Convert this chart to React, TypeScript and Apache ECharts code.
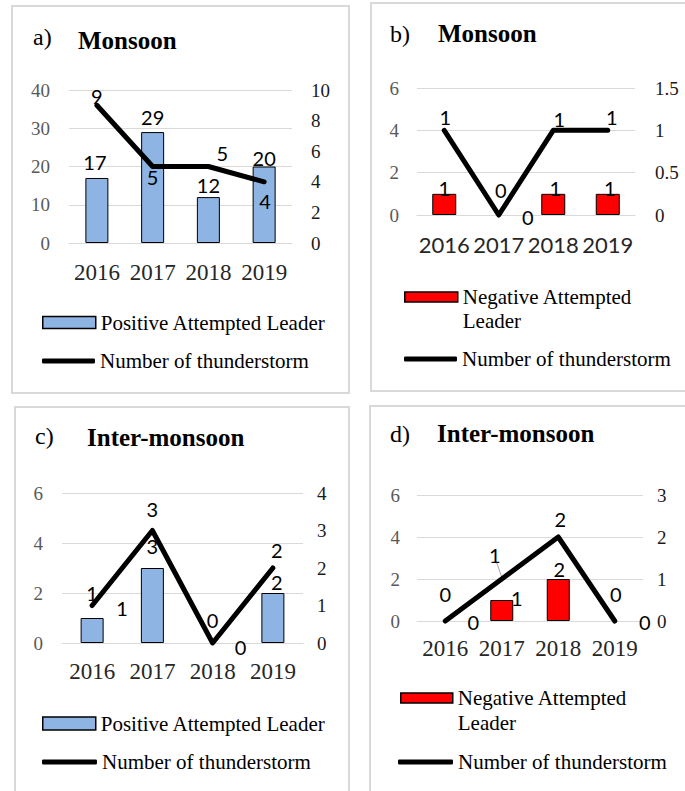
import React, { useEffect, useRef } from 'react';
import * as echarts from 'echarts';

// ---------- data ----------
const years = ['2016', '2017', '2018', '2019'];
const posLeaderMonsoon = [17, 29, 12, 20];
const stormsMonsoonPos = [9, 5, 5, 4];
const negLeaderMonsoon = [1, 0, 1, 1];
const stormsMonsoonNeg = [1, 0, 1, 1];
const posLeaderInter = [1, 3, 0, 2];
const stormsInterPos = [1, 3, 0, 2];
const negLeaderInter = [0, 1, 2, 0];
const stormsInterNeg = [0, 1, 2, 0];

// axis ranges [min, max, interval]
const leftAxisA = [0, 40, 10];
const rightAxisA = [0, 10, 2];
const leftAxisB = [0, 6, 2];
const rightAxisB = [0, 1.5, 0.5];
const leftAxisC = [0, 6, 2];
const rightAxisC = [0, 4, 1];
const leftAxisD = [0, 6, 2];
const rightAxisD = [0, 3, 1];

const POS_NAME = 'Positive Attempted Leader';
const NEG_NAME = 'Negative Attempted Leader';
const LINE_NAME = 'Number of thunderstorm';

const SERIF = '"Liberation Serif", "Times New Roman", serif';
const SANS = 'Lato, "Liberation Sans", sans-serif';
const BLUE = '#8db4e2';
const RED = '#ff0000';
const GRID_COLOR = '#d9d9d9';

// ---------- layout ----------
const panels = [
  {
    tag: 'a)', title: 'Monsoon', tagPos: [33, 37], titlePos: [78, 40],
    border: [12, 6, 337, 387],
    grid: { left: 69, top: 90, width: 223, height: 153 },
    bars: posLeaderMonsoon, barName: POS_NAME, barColor: BLUE, line: stormsMonsoonPos,
    left: leftAxisA, right: rightAxisA, xFont: SERIF, xSize: 23, xMargin: 18,
    lMargin: 19, rMargin: 19, barWidth: 23,
    barOff: [[-2, -6], [0, -5], [0, -2], [0, 1]],
    lineOff: [[0, -9], [0, 10], [14, -14], [1, 19]],
    legBar: [42, 310.5, 53, 12], legLine: [42, 350.5, 53, 5], multi: false, lh: 24,
  },
  {
    tag: 'b)', title: 'Monsoon', tagPos: [390, 34], titlePos: [438, 33],
    border: [371, 3, 330, 388],
    grid: { left: 417, top: 88, width: 218, height: 127 },
    bars: negLeaderMonsoon, barName: NEG_NAME, barColor: RED, line: stormsMonsoonNeg,
    left: leftAxisB, right: rightAxisB, xFont: SANS, xSize: 22, xMargin: 18,
    lMargin: 18, rMargin: 20, barWidth: 24,
    barOff: [[0, 4], [2, -15], [2, 4], [2, 4]],
    lineOff: [[1, -13], [29, 2], [6, -11], [4, -13]],
    legBar: [404, 261, 53, 10], legLine: [404, 348.5, 53, 5], multi: true, lh: 24,
  },
  {
    tag: 'c)', title: 'Inter-monsoon', tagPos: [35, 436], titlePos: [87, 437],
    border: [15, 407, 334, 400],
    grid: { left: 62, top: 493, width: 241, height: 150 },
    bars: posLeaderInter, barName: POS_NAME, barColor: BLUE, line: stormsInterPos,
    left: leftAxisC, right: rightAxisC, xFont: SERIF, xSize: 23, xMargin: 17,
    lMargin: 19, rMargin: 14, barWidth: 23,
    barOff: [[30, 0], [0, -12], [0, -13], [4, -1.5]],
    lineOff: [[0, -12.5], [0, -22], [28, 3.5], [4, -18]],
    legBar: [42, 711.5, 53, 13], legLine: [42, 751.5, 55, 5], multi: false, lh: 24,
  },
  {
    tag: 'd)', title: 'Inter-monsoon', tagPos: [390, 434], titlePos: [437, 433],
    border: [370, 406, 330, 400],
    grid: { left: 417, top: 495, width: 226, height: 126 },
    bars: negLeaderInter, barName: NEG_NAME, barColor: RED, line: stormsInterNeg,
    left: leftAxisD, right: rightAxisD, xFont: SERIF, xSize: 23, xMargin: 16,
    lMargin: 17, rMargin: 14, barWidth: 23,
    barOff: [[28, 10.5], [15, 8], [1, 0], [30, 10.5]],
    lineOff: [[0, -27], [-7, -24.5], [2, -18], [1, -27]],
    legBar: [400, 660.5, 52, 10], legLine: [398, 751.5, 55, 5], multi: true, lh: 25,
  },
];

function buildOption() {
  const grid: any[] = [];
  const xAxis: any[] = [];
  const yAxis: any[] = [];
  const series: any[] = [];
  const legend: any[] = [];
  const graphic: any[] = [];

  panels.forEach((p, i) => {
    graphic.push({
      type: 'rect', silent: true, z: -10,
      shape: { x: p.border[0], y: p.border[1], width: p.border[2], height: p.border[3] },
      style: { fill: 'none', stroke: GRID_COLOR, lineWidth: 2 },
    });
    graphic.push({
      type: 'text', x: p.tagPos[0], y: p.tagPos[1],
      style: { text: p.tag, fontFamily: SERIF, fontSize: 24, fill: '#000', verticalAlign: 'middle', align: 'left' },
    });
    graphic.push({
      type: 'text', x: p.titlePos[0], y: p.titlePos[1],
      style: { text: p.title, fontFamily: SERIF, fontSize: 25, fontWeight: 'bold', fill: '#000', verticalAlign: 'middle', align: 'left' },
    });

    grid.push({ ...p.grid, containLabel: false });
    xAxis.push({
      type: 'category', gridIndex: i, data: years,
      axisTick: { show: false },
      axisLine: { lineStyle: { color: GRID_COLOR, width: 1 } },
      axisLabel: { interval: 0, fontFamily: p.xFont, fontSize: p.xSize, color: '#262626', margin: p.xMargin },
    });
    yAxis.push({
      type: 'value', gridIndex: i, position: 'left',
      min: p.left[0], max: p.left[1], interval: p.left[2],
      axisLine: { show: false }, axisTick: { show: false },
      splitLine: { show: true, lineStyle: { color: GRID_COLOR, width: 1 } },
      axisLabel: { fontFamily: SERIF, fontSize: 19, color: '#595959', margin: p.lMargin },
    });
    yAxis.push({
      type: 'value', gridIndex: i, position: 'right',
      min: p.right[0], max: p.right[1], interval: p.right[2],
      axisLine: { show: false }, axisTick: { show: false },
      splitLine: { show: false },
      axisLabel: { fontFamily: SERIF, fontSize: 19, color: '#1a1a1a', margin: p.rMargin },
    });

    series.push({
      type: 'bar', name: p.barName, xAxisIndex: i, yAxisIndex: 2 * i,
      barWidth: p.barWidth,
      itemStyle: { color: p.barColor, borderColor: '#000', borderWidth: 1 },
      label: { show: true, position: 'top', distance: 0, fontFamily: SANS, fontSize: 20, color: '#000' },
      data: p.bars.map((v, j) => ({
        value: v,
        label: { offset: p.barOff[j] },
        itemStyle: v === 0 ? { borderWidth: 0 } : undefined,
      })),
      z: 2,
    });
    series.push({
      type: 'line', name: LINE_NAME, xAxisIndex: i, yAxisIndex: 2 * i + 1,
      symbol: 'circle', symbolSize: 1, showSymbol: true, clip: false,
      lineStyle: { color: '#000', width: 5, cap: 'round', join: 'round' },
      itemStyle: { color: '#000' },
      label: { show: true, position: 'inside', fontFamily: SANS, fontSize: 20, color: '#000', textBorderWidth: 0 },
      data: p.line.map((v, j) => ({ value: v, label: { offset: p.lineOff[j] } })),
      z: 3,
    });

    legend.push({
      data: [{ name: p.barName, icon: 'rect' }],
      left: p.legBar[0], top: p.legBar[1], itemWidth: p.legBar[2], itemHeight: p.legBar[3],
      padding: 0, selectedMode: false,
      itemStyle: { borderColor: '#000', borderWidth: 1.5 },
      formatter: (name: string) => (p.multi ? '\nNegative Attempted\nLeader' : name),
      textStyle: { fontFamily: SERIF, fontSize: 21, color: '#000', lineHeight: p.lh },
    });
    legend.push({
      data: [{ name: LINE_NAME, icon: 'roundRect' }],
      left: p.legLine[0], top: p.legLine[1], itemWidth: p.legLine[2], itemHeight: p.legLine[3],
      padding: 0, selectedMode: false,
      itemStyle: { color: '#000', borderWidth: 0 },
      textStyle: { fontFamily: SERIF, fontSize: 21, color: '#000' },
    });
  });

  return {
    animation: false,
    backgroundColor: '#fff',
    grid, xAxis, yAxis, series, legend, graphic,
  };
}

export default function App() {
  const ref = useRef<HTMLDivElement>(null);
  useEffect(() => {
    const chart = echarts.init(ref.current as HTMLDivElement, null, { renderer: 'svg' });
    const option: any = buildOption();
    chart.setOption(option);
    // leader line for the moved "1" label of panel d (2017), anchored on the data point
    const pt = chart.convertToPixel({ xAxisIndex: 3, yAxisIndex: 7 } as any, [years[1], stormsInterNeg[1]]) as number[];
    if (pt && isFinite(pt[0]) && isFinite(pt[1])) {
      option.graphic.push({
        type: 'line', silent: true, z: 1,
        shape: { x1: pt[0] - 5, y1: pt[1] - 16, x2: pt[0], y2: pt[1] - 2 },
        style: { stroke: '#a6a6a6', lineWidth: 1 },
      });
      chart.setOption({ graphic: option.graphic });
    }
    return () => chart.dispose();
  }, []);
  return (
    <div
      ref={ref}
      style={{ position: 'absolute', left: 0, top: 0, width: 685, height: 791, background: '#fff' }}
    />
  );
}
